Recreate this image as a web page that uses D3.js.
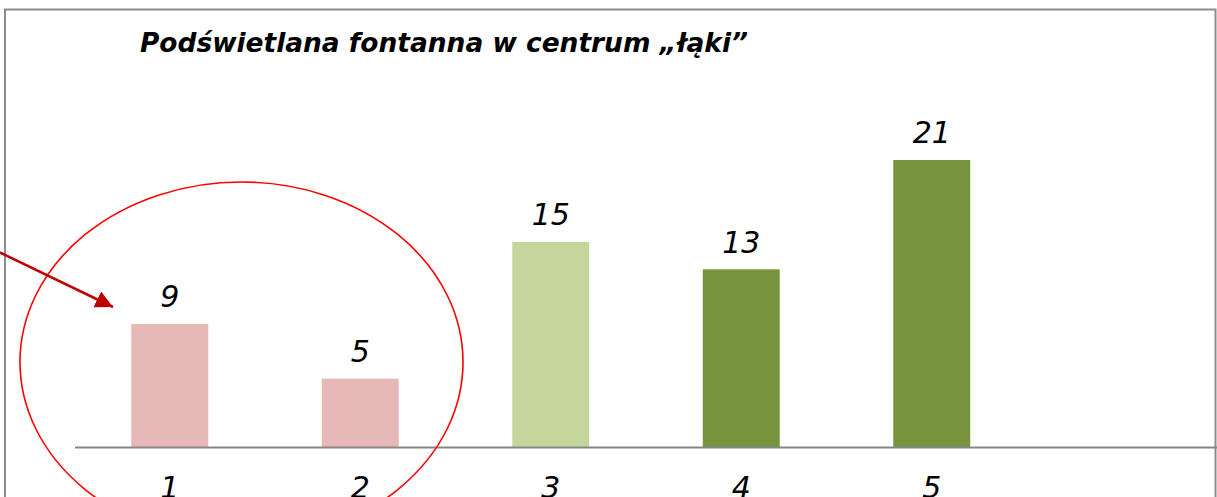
<!DOCTYPE html>
<html>
<head>
<meta charset="utf-8">
<script src="https://cdn.jsdelivr.net/npm/d3@7"></script>
<style>
  html, body { margin: 0; padding: 0; background: #fff; overflow: hidden; }
  text { font-family: "DejaVu Sans", Verdana, sans-serif; }
</style>
</head>
<body>
<script>
// chart data
var categories = ["1", "2", "3", "4", "5"];
var values = [9, 5, 15, 13, 21];
var barColors = ["#E6B9B8", "#E6B9B8", "#C3D69B", "#77933C", "#77933C"];
var slots = categories.concat(["6"]); // last slot stays empty
var title = "Podświetlana fontanna w centrum „łąki”";

var W = 1217, H = 497;

var svg = d3.select("body").append("svg")
  .attr("width", W)
  .attr("height", H);

// frame
svg.append("rect")
  .attr("x", 5)
  .attr("y", 9.5)
  .attr("width", 1210.5)
  .attr("height", 520)
  .attr("fill", "#fff")
  .attr("stroke", "#8c8c8c")
  .attr("stroke-width", 2);

var x = d3.scaleBand()
  .domain(slots)
  .range([74.5, 1217.5])
  .paddingInner(0.596)
  .paddingOuter(0.298);

var y = d3.scaleLinear()
  .domain([0, 25])
  .range([447, 447 - 25 * 13.667]);

// bars
svg.selectAll("rect.bar")
  .data(values)
  .enter()
  .append("rect")
  .attr("class", "bar")
  .attr("x", function(d, i) { return x(categories[i]); })
  .attr("y", function(d) { return y(d); })
  .attr("width", x.bandwidth())
  .attr("height", function(d) { return y(0) - y(d); })
  .attr("fill", function(d, i) { return barColors[i]; });

// value labels
svg.selectAll("text.val")
  .data(values)
  .enter()
  .append("text")
  .attr("class", "val")
  .attr("x", function(d, i) { return x(categories[i]) + x.bandwidth() / 2; })
  .attr("y", function(d) { return y(d) - 16.5; })
  .attr("text-anchor", "middle")
  .style("font-size", "30px")
  .style("font-style", "italic")
  .text(function(d) { return d; });

// category axis (labels run off the bottom edge, as in the original)
var axis = svg.append("g")
  .attr("transform", "translate(0," + y(0) + ")")
  .call(d3.axisBottom(x)
    .tickSize(0)
    .tickPadding(30)
    .tickFormat(function(d) { return categories.indexOf(d) >= 0 ? d : ""; }));

axis.select(".domain")
  .attr("stroke", "#868686")
  .attr("stroke-width", 2);

axis.selectAll("text")
  .attr("fill", "#000")
  .style("font-family", "'DejaVu Sans', Verdana, sans-serif")
  .style("font-size", "30px")
  .style("font-style", "italic");

// title
svg.append("text")
  .attr("x", 140)
  .attr("y", 52)
  .style("font-size", "27px")
  .style("font-weight", "bold")
  .style("font-style", "italic")
  .attr("textLength", 608)
  .attr("lengthAdjust", "spacingAndGlyphs")
  .text(title);

// highlight ellipse round the first two bars
svg.append("ellipse")
  .attr("cx", 241.5)
  .attr("cy", 362)
  .attr("rx", 221.5)
  .attr("ry", 180)
  .attr("fill", "none")
  .attr("stroke", "#FF0000")
  .attr("stroke-width", 1.6);

// arrow pointing at the first bar
svg.append("defs").append("marker")
  .attr("id", "head")
  .attr("viewBox", "0 0 10 10")
  .attr("refX", 10)
  .attr("refY", 5)
  .attr("markerWidth", 7)
  .attr("markerHeight", 7)
  .attr("markerUnits", "strokeWidth")
  .attr("orient", "auto")
  .append("path")
  .attr("d", "M0,0 L10,5 L0,10 Z")
  .attr("fill", "#C00000");

svg.append("line")
  .attr("x1", 0)
  .attr("y1", 252.5)
  .attr("x2", 113)
  .attr("y2", 307)
  .attr("stroke", "#C00000")
  .attr("stroke-width", 2.5)
  .attr("marker-end", "url(#head)");
</script>
</body>
</html>
